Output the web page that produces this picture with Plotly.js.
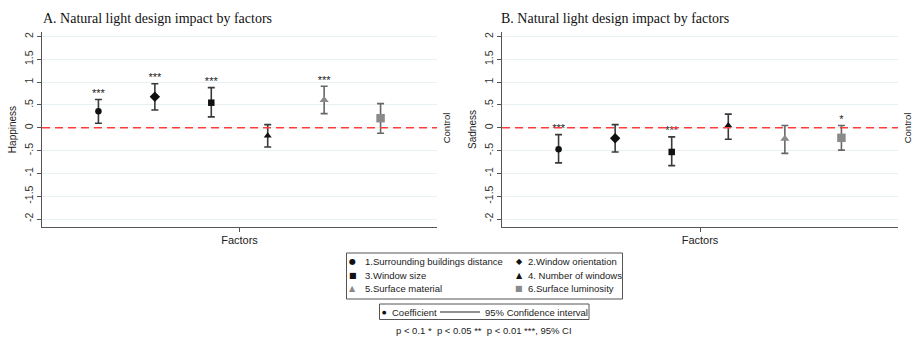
<!DOCTYPE html>
<html>
<head>
<meta charset="utf-8">
<script src="https://cdn.plot.ly/plotly-3.0.1.min.js"></script>
<style>
html,body{margin:0;padding:0;background:#fff;}
#chart{width:915px;height:337px;}
</style>
</head>
<body>
<div id="chart"></div>
<script>
// ---------- data ----------
const factorPos = [1, 2, 3, 4, 5, 6];
const factorLabels = ['1.Surrounding buildings distance', '2.Window orientation', '3.Window size',
                      '4. Number of windows', '5.Surface material', '6.Surface luminosity'];
const happyCoef = [0.36, 0.68, 0.55, -0.175, 0.61, 0.21];
const happyLo   = [0.10, 0.39, 0.24, -0.42, 0.31, -0.12];
const happyHi   = [0.62, 0.965, 0.88, 0.07, 0.91, 0.53];
const happyStars = ['***', '***', '***', '', '***', ''];
const sadCoef = [-0.47, -0.23, -0.53, 0.05, -0.24, -0.22];
const sadLo   = [-0.77, -0.53, -0.83, -0.25, -0.56, -0.49];
const sadHi   = [-0.15, 0.07, -0.20, 0.30, 0.05, 0.05];
const sadStars = ['***', '', '***', '', '', '*'];
const controlLevel = 0;
const yTickVals = [-2, -1.5, -1, -0.5, 0, 0.5, 1, 1.5, 2];
const yTickText = ['-2', '-1.5', '-1', '-.5', '0', '.5', '1', '1.5', '2'];
const xCenterTick = [3.5];

// ---------- styles ----------
const SANS = 'Liberation Sans, Arial, sans-serif';
const SERIF = 'Liberation Serif, Times New Roman, serif';
const symbols = ['circle', 'diamond', 'square', 'triangle-up', 'triangle-up', 'square'];
const sizes = [6.5, 8, 6.5, 7, 8, 8.5];
const mColors = ['#111111', '#111111', '#111111', '#111111', '#8a8a8a', '#8a8a8a'];
const ciColors = ['#3a3a3a', '#3a3a3a', '#3a3a3a', '#3a3a3a', '#666666', '#666666'];
const legendGlyphs = ['\u25CF', '\u25C6', '\u25A0', '\u25B2', '\u25B2', '\u25A0'];

const W = 915, H = 337;
const px = v => v / W;
const py = v => 1 - v / H;

const panels = [
  {coef: happyCoef, lo: happyLo, hi: happyHi, stars: happyStars, xa: 'x', ya: 'y', title: 'A. Natural light design impact by factors', titleX: 41},
  {coef: sadCoef, lo: sadLo, hi: sadHi, stars: sadStars, xa: 'x2', ya: 'y2', title: 'B. Natural light design impact by factors', titleX: 499}
];

const traces = [];
panels.forEach(p => {
  factorPos.forEach((xv, i) => {
    traces.push({
      type: 'scatter', mode: 'markers', xaxis: p.xa, yaxis: p.ya,
      x: [xv], y: [p.coef[i]], name: factorLabels[i], showlegend: false, hoverinfo: 'skip',
      marker: {symbol: symbols[i], size: sizes[i], color: mColors[i]},
      error_y: {type: 'data', symmetric: false,
        array: [p.hi[i] - p.coef[i]], arrayminus: [p.coef[i] - p.lo[i]],
        color: ciColors[i], thickness: 1.6, width: 3.5}
    });
  });
  traces.push({
    type: 'scatter', mode: 'text', xaxis: p.xa, yaxis: p.ya,
    x: factorPos, y: p.hi, text: p.stars, textposition: 'top center',
    textfont: {family: SANS, size: 11, color: '#222'}, showlegend: false, hoverinfo: 'skip'
  });
});

const yAxisBase = {
  range: [-2.175, 2.1], tickvals: yTickVals, ticktext: yTickText, tickangle: -90,
  ticks: 'outside', ticklen: 4, tickcolor: '#555', showline: true, linecolor: '#555', linewidth: 1,
  showgrid: true, gridcolor: '#e8f0f4', gridwidth: 1, zeroline: false,
  tickfont: {family: SANS, size: 10.5, color: '#333'}, fixedrange: true
};
const xAxisBase = {
  range: [0, 7], tickvals: xCenterTick, ticktext: [''], ticks: 'outside', ticklen: 4, tickcolor: '#555',
  showline: true, linecolor: '#555', linewidth: 1, showgrid: false, zeroline: false,
  title: {text: 'Factors', font: {family: SANS, size: 11, color: '#222'}, standoff: 2}, fixedrange: true
};

const layout = {
  width: W, height: H, margin: {l: 0, r: 0, t: 0, b: 0},
  paper_bgcolor: '#ffffff', plot_bgcolor: '#ffffff', showlegend: false,
  xaxis: Object.assign({}, xAxisBase, {domain: [px(42), px(437)], anchor: 'y'}),
  yaxis: Object.assign({}, yAxisBase, {domain: [py(227), py(32)], anchor: 'x',
    title: {text: 'Happiness', font: {family: SANS, size: 10, color: '#222'}, standoff: 4}}),
  xaxis2: Object.assign({}, xAxisBase, {domain: [px(502), px(898)], anchor: 'y2'}),
  yaxis2: Object.assign({}, yAxisBase, {domain: [py(227), py(32)], anchor: 'x2',
    title: {text: 'Sadness', font: {family: SANS, size: 10, color: '#222'}, standoff: 4}}),
  shapes: [], annotations: []
};

panels.forEach((p, k) => {
  const xd = k === 0 ? 'x domain' : 'x2 domain';
  layout.shapes.push({type: 'line', xref: xd, yref: p.ya, x0: 0, x1: 1, y0: controlLevel, y1: controlLevel,
    line: {color: '#ff3d3d', width: 1.5, dash: '8px,5px'}});
  layout.annotations.push({xref: xd, yref: p.ya, x: 1, y: controlLevel, xanchor: 'left', yanchor: 'middle',
    xshift: 2, text: 'Control', textangle: -90, showarrow: false,
    font: {family: SANS, size: 9.5, color: '#222'}});
  layout.annotations.push({xref: 'paper', yref: 'paper', x: px(p.titleX), y: py(19), xanchor: 'left', yanchor: 'middle',
    text: p.title, showarrow: false, font: {family: SERIF, size: 14, color: '#111'}});
});

// legend box 1
layout.shapes.push({type: 'rect', xref: 'paper', yref: 'paper', x0: px(346.5), x1: px(622.5), y0: py(253), y1: py(299),
  line: {color: '#555', width: 1}});
const colMarkX = [352.5, 519], colTextX = [362.5, 525.5], rowY = [261.5, 275, 288.5];
factorLabels.forEach((lab, i) => {
  const c = i % 2, r = Math.floor(i / 2);
  layout.annotations.push({xref: 'paper', yref: 'paper', x: px(colMarkX[c]), y: py(rowY[r]), xanchor: 'center', yanchor: 'middle',
    text: legendGlyphs[i], showarrow: false, font: {family: 'DejaVu Sans', size: 8, color: mColors[i]}});
  layout.annotations.push({xref: 'paper', yref: 'paper', x: px(colTextX[c]), y: py(rowY[r]), xanchor: 'left', yanchor: 'middle',
    text: lab, showarrow: false, font: {family: SANS, size: 9.5, color: '#222'}});
});

// legend box 2
layout.shapes.push({type: 'rect', xref: 'paper', yref: 'paper', x0: px(379.5), x1: px(589), y0: py(304), y1: py(319.5),
  line: {color: '#555', width: 1}});
layout.annotations.push({xref: 'paper', yref: 'paper', x: px(384), y: py(312), xanchor: 'center', yanchor: 'middle',
  text: '\u25CF', showarrow: false, font: {family: 'DejaVu Sans', size: 5, color: '#111'}});
layout.annotations.push({xref: 'paper', yref: 'paper', x: px(389.5), y: py(312), xanchor: 'left', yanchor: 'middle',
  text: 'Coefficient', showarrow: false, font: {family: SANS, size: 9.5, color: '#222'}});
layout.shapes.push({type: 'line', xref: 'paper', yref: 'paper', x0: px(440), x1: px(480), y0: py(312), y1: py(312),
  line: {color: '#222', width: 1}});
layout.annotations.push({xref: 'paper', yref: 'paper', x: px(483), y: py(312), xanchor: 'left', yanchor: 'middle',
  text: '95% Confidence interval', showarrow: false, font: {family: SANS, size: 9.5, color: '#222'}});
layout.annotations.push({xref: 'paper', yref: 'paper', x: px(484), y: py(330), xanchor: 'center', yanchor: 'middle',
  text: 'p < 0.1 *  p < 0.05 **  p < 0.01 ***, 95% CI', showarrow: false, font: {family: SANS, size: 9.5, color: '#222'}});

Plotly.newPlot('chart', traces, layout, {staticPlot: true, displayModeBar: false});
</script>
</body>
</html>
